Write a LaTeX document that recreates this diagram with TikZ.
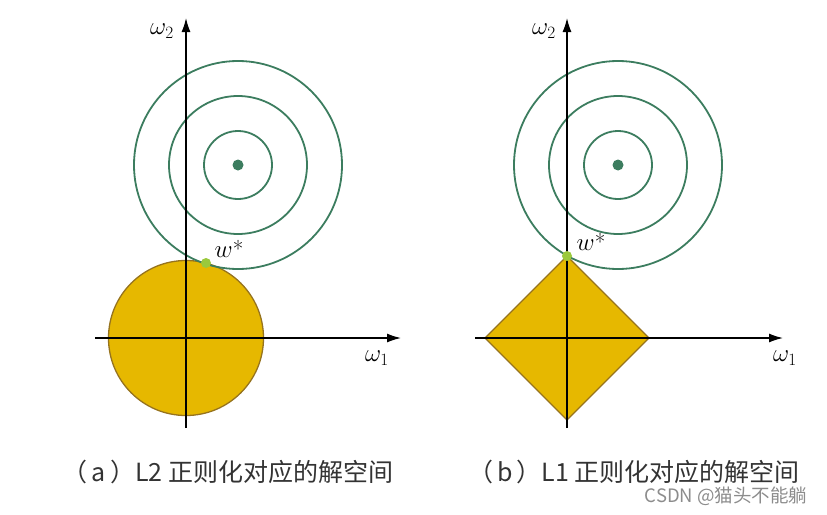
\documentclass[tikz,border=0pt]{standalone}
\usepackage{fontspec}
\newfontfamily\cjk{Noto Sans CJK SC}
\usetikzlibrary{arrows.meta}
\definecolor{gold}{RGB}{230,184,0}
\definecolor{goldedge}{RGB}{150,115,30}
\definecolor{contour}{RGB}{60,125,95}
\definecolor{tangent}{RGB}{155,201,60}
\tikzset{
  axis/.style={line width=1.4pt,-{Latex[length=14pt,width=9pt]}},
  contourline/.style={draw=contour,line width=1.8pt},
  region/.style={fill=gold,draw=goldedge,line width=1.3pt},
  lbl/.style={font=\fontsize{24}{28}\selectfont,inner sep=0pt},
  wlbl/.style={font=\fontsize{23}{27}\selectfont,inner sep=0pt},
  caption/.style={font=\cjk\fontsize{25}{30}\selectfont,text=black!80,inner sep=0pt},
}
\begin{document}
\begin{tikzpicture}[x=1pt,y=-1pt]
\useasboundingbox (0,0) rectangle (827,514);
% ---------- left panel ----------
\coordinate (Lo) at (186,338);
\coordinate (Lc) at (238,165);
\draw[region] (Lo) circle (77.5);
\foreach \r in {34,69,104} \draw[contourline] (Lc) circle (\r);
\fill[contour] (Lc) circle (5.5);
\coordinate (Lxs) at (95,338);
\coordinate (Lxe) at (401,338);
\coordinate (Lys) at (186,428);
\coordinate (Lye) at (186,18);
\draw[axis] (Lxs) -- (Lxe);
\draw[axis] (Lys) -- (Lye);
\fill[tangent] (206,263) circle (5) node (Lt) {};
\node[wlbl] (Lw) at (229,249) {$w$*};
\node[lbl] (Lw2) at (162,31) {$\omega_2$};
\node[lbl] (Lw1) at (377,358) {$\omega_1$};
% ---------- right panel ----------
\coordinate (Ro) at (567,338);
\coordinate (Rc) at (618,165);
\draw[region] (567,256) -- (649,338) -- (567,420) -- (485,338) -- cycle;
\foreach \r in {34,69,104} \draw[contourline] (Rc) circle (\r);
\fill[contour] (Rc) circle (5.5);
\coordinate (Rxs) at (475,338);
\coordinate (Rxe) at (783,338);
\coordinate (Rys) at (567,428);
\coordinate (Rye) at (567,18);
\draw[axis] (Rxs) -- (Rxe);
\draw[axis] (Rys) -- (Rye);
\fill[tangent] (567,256) circle (5) node (Rt) {};
\node[wlbl] (Rw) at (591,242) {$w$*};
\node[lbl] (Rw2) at (544,31) {$\omega_2$};
\node[lbl] (Rw1) at (785,358) {$\omega_1$};
% ---------- captions ----------
\node[caption] (Ca) at (228,472) {（\,a\,）L2 正则化对应的解空间};
\node[caption] (Cb) at (634,472) {（\,b\,）L1 正则化对应的解空间};
\node[font=\cjk\fontsize{18.5}{22}\selectfont,text=black!45,inner sep=0pt] (wm) at (726,496) {CSDN @猫头不能躺};
\end{tikzpicture}
\end{document}
